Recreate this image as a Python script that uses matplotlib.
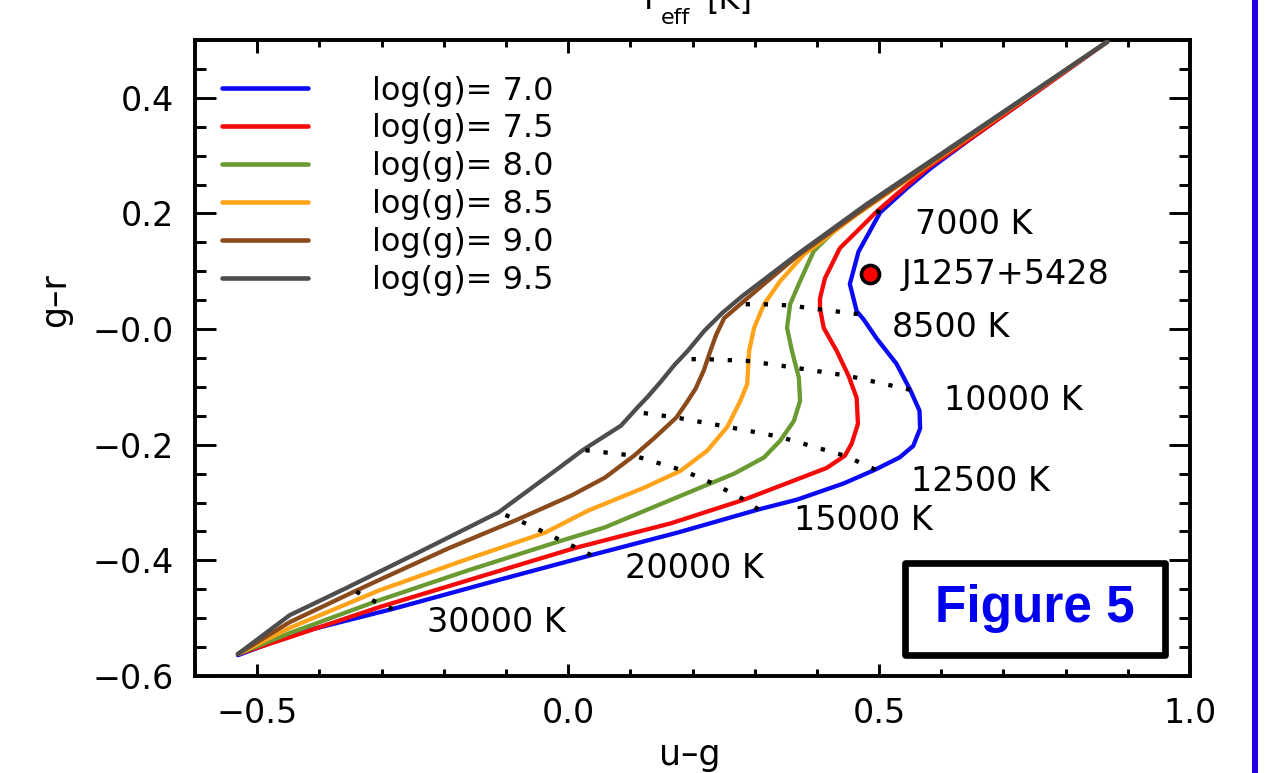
import matplotlib
matplotlib.use('Agg')
import matplotlib.pyplot as plt
from matplotlib.patches import Rectangle
from matplotlib.ticker import MultipleLocator, FixedLocator, FixedFormatter

# ---------------- data ----------------
logg_labels = ['log(g)= 7.0', 'log(g)= 7.5', 'log(g)= 8.0',
               'log(g)= 8.5', 'log(g)= 9.0', 'log(g)= 9.5']
colors = ['#0a0af5', '#f50a0a', '#6b9a32', '#ffa41a', '#8b4a1c', '#4d4d4d']

ug_70 = [0.867, 0.656, 0.584, 0.544, 0.502, 0.467, 0.453, 0.464, 0.475, 0.496, 0.528,
         0.550, 0.565, 0.566, 0.555, 0.533, 0.494, 0.443, 0.368, 0.306, 0.176, 0.037,
         -0.112, -0.282, -0.437, -0.496, -0.531]
gr_70 = [0.497, 0.336, 0.279, 0.243, 0.202, 0.134, 0.078, 0.031, 0.017, -0.016, -0.060,
         -0.105, -0.141, -0.172, -0.202, -0.222, -0.243, -0.267, -0.295, -0.312, -0.352,
         -0.391, -0.434, -0.484, -0.526, -0.550, -0.564]

ug_75 = [0.867, 0.656, 0.581, 0.528, 0.496, 0.469, 0.437, 0.413, 0.405, 0.405, 0.411,
         0.432, 0.451, 0.464, 0.466, 0.456, 0.445, 0.416, 0.363, 0.283, 0.165, 0.013,
         -0.144, -0.304, -0.448, -0.531]
gr_75 = [0.497, 0.336, 0.281, 0.233, 0.203, 0.174, 0.140, 0.088, 0.053, 0.036, 0.002,
         -0.038, -0.081, -0.119, -0.164, -0.198, -0.219, -0.240, -0.262, -0.295, -0.336,
         -0.378, -0.429, -0.481, -0.533, -0.562]

ug_80 = [0.867, 0.512, 0.464, 0.427, 0.395, 0.373, 0.357, 0.352, 0.360, 0.371, 0.373,
         0.363, 0.341, 0.315, 0.267, 0.213, 0.128, 0.059, -0.011, -0.160, -0.304, -0.448,
         -0.531]
gr_80 = [0.497, 0.238, 0.203, 0.169, 0.135, 0.083, 0.043, 0.002, -0.038, -0.084, -0.124,
         -0.159, -0.193, -0.222, -0.250, -0.274, -0.312, -0.343, -0.366, -0.417, -0.469,
         -0.526, -0.562]

ug_85 = [0.867, 0.464, 0.379, 0.341, 0.315, 0.299, 0.291, 0.288, 0.277, 0.256, 0.224,
         0.181, 0.123, 0.032, -0.037, -0.168, -0.304, -0.448, -0.531]
gr_85 = [0.497, 0.198, 0.129, 0.083, 0.043, 0.002, -0.038, -0.095, -0.124, -0.169, -0.210,
         -0.245, -0.274, -0.314, -0.352, -0.400, -0.452, -0.517, -0.562]

ug_90 = [0.867, 0.480, 0.368, 0.315, 0.277, 0.251, 0.238, 0.228, 0.218, 0.205, 0.190,
         0.174, 0.139, 0.106, 0.059, 0.005, -0.085, -0.192, -0.304, -0.342, -0.448, -0.531]
gr_90 = [0.497, 0.212, 0.126, 0.078, 0.043, 0.019, -0.010, -0.040, -0.072, -0.103,
         -0.128, -0.153, -0.188, -0.219, -0.257, -0.288, -0.331, -0.379, -0.434, -0.453,
         -0.507, -0.562]

ug_95 = [0.867, 0.480, 0.368, 0.280, 0.248, 0.219, 0.192, 0.171, 0.149, 0.128, 0.112,
         0.085, 0.024, -0.021, -0.112, -0.240, -0.357, -0.448, -0.531]
gr_95 = [0.497, 0.216, 0.129, 0.057, 0.028, -0.003, -0.038, -0.062, -0.091, -0.117,
         -0.135, -0.167, -0.209, -0.245, -0.317, -0.386, -0.448, -0.495, -0.562]

# isotherms: values ordered log(g) = 7.0 ... 9.5
iso_labels = ['7000 K', '8500 K', '10000 K', '12500 K', '15000 K', '20000 K', '30000 K']
iso_ug = [[0.502, 0.493, 0.483, 0.478, 0.477, 0.477],
          [0.466, 0.406, 0.355, 0.315, 0.277, 0.267],
          [0.550, 0.451, 0.360, 0.288, 0.221, 0.194],
          [0.494, 0.445, 0.339, 0.256, 0.174, 0.120],
          [0.306, 0.283, 0.237, 0.186, 0.106, 0.024],
          [0.037, 0.013, -0.011, -0.037, -0.083, -0.112],
          [-0.282, -0.301, -0.315, -0.328, -0.342, -0.358]]
iso_gr = [[0.202, 0.205, 0.209, 0.210, 0.210, 0.210],
          [0.026, 0.034, 0.041, 0.043, 0.043, 0.041],
          [-0.105, -0.081, -0.066, -0.055, -0.052, -0.052],
          [-0.243, -0.219, -0.186, -0.169, -0.153, -0.145],
          [-0.312, -0.295, -0.269, -0.245, -0.219, -0.209],
          [-0.391, -0.378, -0.366, -0.352, -0.329, -0.317],
          [-0.484, -0.476, -0.469, -0.462, -0.453, -0.450]]
iso_label_ug = [0.557, 0.520, 0.605, 0.552, 0.363, 0.091, -0.227]
iso_label_gr = [0.181, 0.003, -0.124, -0.264, -0.331, -0.414, -0.507]

star_name = 'J1257+5428'
star_ug = [0.485]
star_gr = [0.095]

xticks = [-0.5, 0.0, 0.5, 1.0]
xticklabels = ['\u22120.5', '0.0', '0.5', '1.0']
yticks = [-0.6, -0.4, -0.2, 0.0, 0.2, 0.4]
yticklabels = ['\u22120.6', '\u22120.4', '\u22120.2', '\u22120.0', '0.2', '0.4']

curves_ug = [ug_70, ug_75, ug_80, ug_85, ug_90, ug_95]
curves_gr = [gr_70, gr_75, gr_80, gr_85, gr_90, gr_95]

# ---------------- figure ----------------
plt.rcParams['font.family'] = ['DejaVu Sans']
W, H = 1272, 773
fig = plt.figure(figsize=(W / 100, H / 100), dpi=100)
fig.patch.set_facecolor('white')
ax = fig.add_axes([195 / W, (H - 676) / H, 995 / W, 636 / H])

for ug, gr, c, lab in zip(curves_ug, curves_gr, colors, logg_labels):
    ax.plot(ug, gr, color=c, lw=3.1, label=lab, solid_joinstyle='round',
            solid_capstyle='round', zorder=3)

for ug, gr in zip(iso_ug, iso_gr):
    ax.plot(ug, gr, color='black', lw=3.1, linestyle=(0, (1, 3.2)),
            dash_capstyle='butt', zorder=4)

for t, x, y in zip(iso_labels, iso_label_ug, iso_label_gr):
    ax.text(x, y, t, fontsize=24, ha='left', va='center')

ax.plot(star_ug, star_gr, 'o', ms=13, mfc='#ff0000', mec='black', mew=2.6, zorder=6)
ax.text(star_ug[0] + 0.051, star_gr[0], star_name, fontsize=24, ha='left', va='center')

ax.set_xlim(-0.6, 1.0)
ax.set_ylim(-0.6, 0.5)
ax.xaxis.set_major_locator(FixedLocator(xticks))
ax.xaxis.set_major_formatter(FixedFormatter(xticklabels))
ax.xaxis.set_minor_locator(MultipleLocator(0.1))
ax.yaxis.set_major_locator(FixedLocator(yticks))
ax.yaxis.set_major_formatter(FixedFormatter(yticklabels))
ax.yaxis.set_minor_locator(MultipleLocator(0.05))

ax.tick_params(axis='both', which='both', direction='in', top=True, right=True,
               width=2.1, labelsize=24, colors='black')
ax.tick_params(axis='x', which='major', length=9, pad=15)
ax.tick_params(axis='x', which='minor', length=5)
ax.tick_params(axis='y', which='major', length=15, pad=15)
ax.tick_params(axis='y', which='minor', length=8)
for s in ax.spines.values():
    s.set_linewidth(2.8)

ax.set_xlabel('u\u2013g', fontsize=25, va='center')
ax.xaxis.set_label_coords(0.4975, -0.124)
ax.set_ylabel('g\u2013r', fontsize=25, va='center')
ax.yaxis.set_label_coords(-0.1407, 0.591)

leg = ax.legend(loc='upper left', bbox_to_anchor=(0.0271, 0.944), frameon=False,
                borderpad=0, borderaxespad=0, handlelength=2.69, handletextpad=2.0,
                labelspacing=0.215, prop={'size': 23})
for h in leg.get_lines():
    h.set_linewidth(3.3)

# Figure 5 box
ax.add_patch(Rectangle((0.7136, 0.033), 0.2614, 0.1447, transform=ax.transAxes,
                       fill=True, fc='white', ec='black', lw=4.8, joinstyle='round',
                       zorder=7))
ax.text(0.8443, 0.1055, 'Figure 5', transform=ax.transAxes, fontsize=37,
        fontweight='bold', color='#0000ee', ha='center', va='center', zorder=8,
        family='Liberation Sans')

# partially visible top axis title  (T_eff [K])
fig.text(638 / W, 1 - 9 / H, 'T', ha='left', va='baseline', fontsize=23)
fig.text(661 / W, 1 - 24 / H, 'eff', ha='left', va='baseline', fontsize=16)
fig.text(706 / W, 1 - 9 / H, '[K]', ha='left', va='baseline', fontsize=23)

# slide border line at right
fig.add_artist(Rectangle((1252 / W, 0), 6 / W, 1, transform=fig.transFigure,
                         fc='#2200dd', ec='none'))

fig.savefig('out.png', dpi=100)
